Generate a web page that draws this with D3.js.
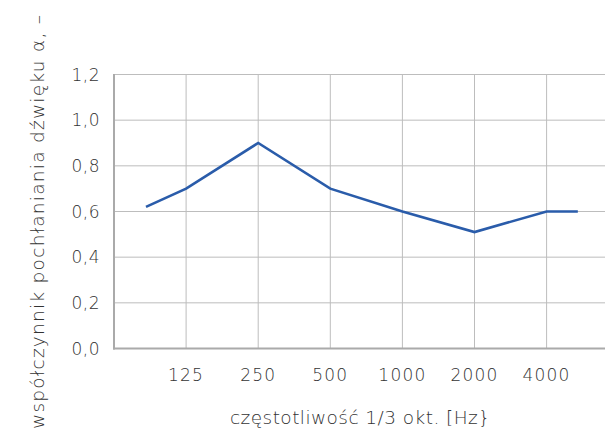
<!DOCTYPE html>
<html><head><meta charset="utf-8">
<script src="https://cdn.jsdelivr.net/npm/d3@7"></script>
<style>html,body{margin:0;padding:0;background:#fff;}svg{display:block;}</style>
</head><body>
<script>
const freqs = [85, 125, 250, 500, 1000, 2000, 4000, 5400];
const alpha = [0.62, 0.70, 0.90, 0.70, 0.60, 0.51, 0.60, 0.60];
const xTicks = [125, 250, 500, 1000, 2000, 4000];
const yTicks = [0, 0.2, 0.4, 0.6, 0.8, 1.0, 1.2];
const xTitle = "częstotliwość 1/3 okt. [Hz}";
const yTitle = "współczynnik pochłaniania dźwięku α, –";

const W = 605, H = 434;
const svg = d3.select("body").append("svg").attr("width", W).attr("height", H);
const x = d3.scaleLog().base(2).domain([62.5, 8000]).range([114, 618.7]);
const y = d3.scaleLinear().domain([0, 1.2]).range([348.5, 74.5]);
const font = "'DejaVu Sans', sans-serif";
const tc = "#333";
const fw = 200;

const g = svg.append("g");
g.selectAll(".vg").data(xTicks).join("line")
  .attr("x1", d => x(d)).attr("x2", d => x(d)).attr("y1", y(1.2)).attr("y2", y(0))
  .attr("stroke", "#bdbdbd").attr("stroke-width", 1);
g.selectAll(".hg").data(yTicks.filter(d => d > 0)).join("line")
  .attr("x1", x(62.5)).attr("x2", W).attr("y1", d => y(d)).attr("y2", d => y(d))
  .attr("stroke", "#bdbdbd").attr("stroke-width", 1);
g.append("line").attr("x1", x(62.5)).attr("x2", x(62.5)).attr("y1", y(1.2) - 0.5).attr("y2", y(0) + 1)
  .attr("stroke", "#aaa").attr("stroke-width", 2);
g.append("line").attr("x1", x(62.5) - 1).attr("x2", W).attr("y1", y(0)).attr("y2", y(0))
  .attr("stroke", "#aaa").attr("stroke-width", 2);

svg.append("path").datum(freqs.map((f, i) => [f, alpha[i]]))
  .attr("d", d3.line().x(d => x(d[0])).y(d => y(d[1])))
  .attr("fill", "none").attr("stroke", "#2a5caa").attr("stroke-width", 2.6)
  .attr("stroke-linejoin", "miter");

svg.selectAll(".yl").data(yTicks).join("text")
  .attr("x", 100).attr("y", d => y(d)).attr("dy", "0.36em")
  .attr("text-anchor", "end").attr("font-family", font).attr("font-size", 17).attr("font-weight", fw)
  .attr("letter-spacing", 0.5)
  .attr("fill", tc).text(d => d.toFixed(1).replace(".", ","));
svg.selectAll(".xl").data(xTicks).join("text")
  .attr("x", d => x(d)).attr("y", 381)
  .attr("text-anchor", "middle").attr("font-family", font).attr("font-size", 17).attr("font-weight", fw)
  .attr("letter-spacing", 1.2)
  .attr("fill", tc).text(d => d);
svg.append("text").attr("x", 360).attr("y", 424).attr("text-anchor", "middle")
  .attr("font-family", font).attr("font-size", 18.5).attr("font-weight", fw).attr("fill", tc)
  .attr("textLength", 260).attr("lengthAdjust", "spacing").text(xTitle);
svg.append("text").attr("transform", "translate(44,222) rotate(-90)").attr("text-anchor", "middle")
  .attr("font-family", font).attr("font-size", 18.5).attr("font-weight", fw).attr("fill", tc)
  .attr("textLength", 414).attr("lengthAdjust", "spacing").text(yTitle);
</script>
</body></html>
